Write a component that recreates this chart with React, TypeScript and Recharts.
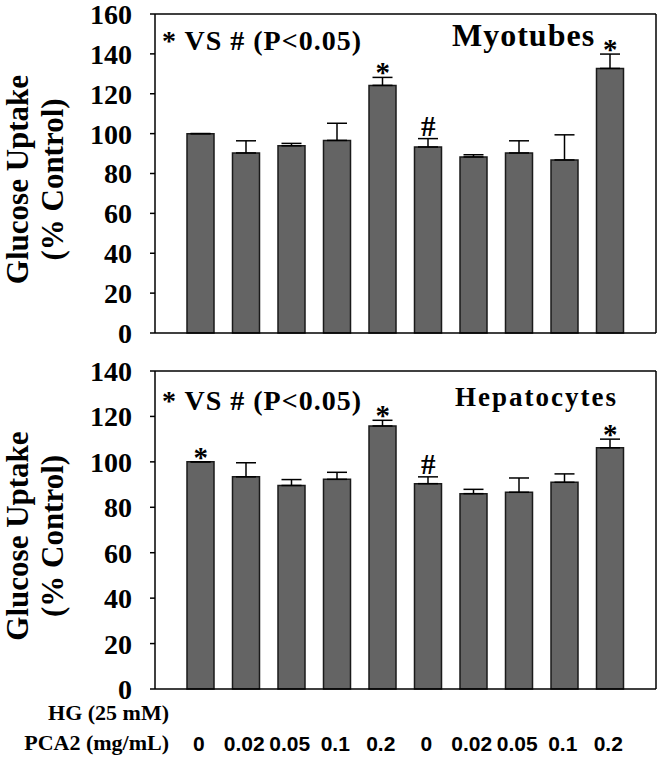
import React from 'react';
import { ComposedChart, Bar, Line, XAxis, YAxis, ErrorBar } from 'recharts';

const pca2Doses = ['0', '0.02', '0.05', '0.1', '0.2', '0', '0.02', '0.05', '0.1', '0.2'];

const myotubesMean = [100, 90.3, 93.9, 96.6, 124.2, 93.3, 88.3, 90.3, 86.8, 132.7];
const myotubesErr = [0, 6.1, 1.2, 8.6, 4.0, 4.2, 1.1, 6.1, 12.6, 7.2];
const myotubesMarks = ['', '', '', '', '*', '#', '', '', '', '*'];

const hepatocytesMean = [100, 93.4, 89.6, 92.3, 115.8, 90.4, 86.0, 86.6, 91.0, 106.2];
const hepatocytesErr = [0, 6.2, 2.6, 3.1, 2.5, 3.0, 1.9, 6.3, 3.7, 3.8];
const hepatocytesMarks = ['*', '', '', '', '*', '#', '', '', '', '*'];

const myotubesTicks = [0, 20, 40, 60, 80, 100, 120, 140, 160];
const hepatocytesTicks = [0, 20, 40, 60, 80, 100, 120, 140];

const SERIF = "'Liberation Serif', 'Times New Roman', Times, serif";
const SANS_NARROW = "'Liberation Sans Narrow', 'Arial Narrow', 'Liberation Sans', Arial, sans-serif";

function buildRows(means: number[], errs: number[], marks: string[]) {
  return pca2Doses.map((dose, i) => ({
    dose,
    mean: means[i],
    err: [0, errs[i]],
    top: means[i] + errs[i],
    mark: marks[i],
  }));
}

const myotubesData = buildRows(myotubesMean, myotubesErr, myotubesMarks);
const hepatocytesData = buildRows(hepatocytesMean, hepatocytesErr, hepatocytesMarks);

const renderMark = (props: any) => {
  const { cx, cy, payload, index } = props;
  const m = payload?.mark;
  if (!m) return <g key={`m-${index}`} />;
  return (
    <text
      key={`m-${index}`}
      x={cx}
      y={m === '*' ? cy + 5 : cy - 3}
      textAnchor="middle"
      fontFamily={SERIF}
      fontWeight="bold"
      fontSize={29}
      fill="#000"
    >
      {m}
    </text>
  );
};

const renderYLabel = (props: any) => {
  const vb = props.viewBox || {};
  const cy = vb.y + vb.height / 2 + 6;
  return (
    <g>
      <text
        x={28}
        y={cy}
        transform={`rotate(-90, 28, ${cy})`}
        textAnchor="middle"
        fontFamily={SERIF}
        fontWeight="bold"
        fontSize={31}
        fill="#000"
      >
        Glucose Uptake
      </text>
      <text
        x={63}
        y={cy}
        transform={`rotate(-90, 63, ${cy})`}
        textAnchor="middle"
        fontFamily={SERIF}
        fontWeight="bold"
        fontSize={31}
        fill="#000"
      >
        (% Control)
      </text>
    </g>
  );
};

const makeTitle = (
  name: string,
  nameX: number,
  nameSize: number,
  spacing: number,
  noteDy: number,
  nameDy: number
) => (props: any) => {
  const vb = props.viewBox || {};
  return (
    <g>
      <text
        x={vb.x + 7}
        y={vb.y + noteDy}
        fontFamily={SERIF}
        fontWeight="bold"
        fontSize={28}
        letterSpacing={1}
        fill="#000"
      >
        * VS # (P&lt;0.05)
      </text>
      <text
        x={vb.x + nameX}
        y={vb.y + nameDy}
        fontFamily={SERIF}
        fontWeight="bold"
        fontSize={nameSize}
        letterSpacing={spacing}
        fill="#000"
      >
        {name}
      </text>
    </g>
  );
};

const renderBottomLabels = (props: any) => {
  const vb = props.viewBox || {};
  return (
    <g>
      <text
        x={vb.x + 14}
        y={vb.y + 31}
        textAnchor="end"
        fontFamily={SERIF}
        fontWeight="bold"
        fontSize={22}
        fill="#000"
      >
        HG (25 mM)
      </text>
      <text
        x={vb.x + 14}
        y={vb.y + 61}
        textAnchor="end"
        fontFamily={SERIF}
        fontWeight="bold"
        fontSize={22}
        fill="#000"
      >
        PCA2 (mg/mL)
      </text>
    </g>
  );
};

const yTickStyle = { fill: '#000', fontSize: 28, fontWeight: 'bold', fontFamily: SERIF };
const axisStroke = { stroke: '#000', strokeWidth: 1.5 };

function Panel(props: {
  data: any[];
  ticks: number[];
  max: number;
  width: number;
  height: number;
  margin: any;
  xHeight: number;
  showDoseLabels: boolean;
  title: (p: any) => React.ReactElement;
}) {
  const { data, ticks, max, width, height, margin, xHeight, showDoseLabels, title } = props;
  return (
    <ComposedChart width={width} height={height} data={data} margin={margin}>
      <XAxis
        dataKey="dose"
        xAxisId="b"
        height={xHeight}
        padding={{ left: 23, right: 23 }}
        axisLine={axisStroke}
        tickLine={false}
        tickSize={0}
        tickMargin={47}
        tick={
          showDoseLabels
            ? { fill: '#000', fontSize: 21, fontWeight: 'bold', fontFamily: SANS_NARROW, dx: -2 }
            : false
        }
        interval={0}
        label={showDoseLabels ? { content: renderBottomLabels } : undefined}
      />
      <XAxis
        dataKey="dose"
        xAxisId="t"
        orientation="top"
        height={1}
        padding={{ left: 23, right: 23 }}
        axisLine={axisStroke}
        tickLine={false}
        tick={false}
        label={{ content: title }}
      />
      <YAxis
        yAxisId="l"
        width={155}
        domain={[0, max]}
        ticks={ticks}
        interval={0}
        axisLine={axisStroke}
        tickLine={axisStroke}
        tickSize={5}
        tickMargin={18}
        tick={yTickStyle}
        label={{ content: renderYLabel }}
      />
      <YAxis
        yAxisId="r"
        orientation="right"
        width={1}
        domain={[0, max]}
        ticks={ticks}
        axisLine={axisStroke}
        tickLine={false}
        tick={false}
      />
      <Bar
        dataKey="mean"
        xAxisId="b"
        yAxisId="l"
        barSize={27}
        fill="#646464"
        stroke="#1a1a1a"
        strokeWidth={1.5}
        isAnimationActive={false}
      >
        <ErrorBar dataKey="err" width={10} stroke="#000" strokeWidth={1.5} direction="y" />
      </Bar>
      <Line
        dataKey="top"
        xAxisId="t"
        yAxisId="r"
        stroke="none"
        dot={renderMark}
        activeDot={false}
        isAnimationActive={false}
        legendType="none"
      />
    </ComposedChart>
  );
}

export default function App() {
  return (
    <div
      style={{
        position: 'absolute',
        left: 0,
        top: 0,
        width: 661,
        height: 757,
        background: '#fff',
      }}
    >
      <div style={{ position: 'absolute', left: 0, top: 0 }}>
        <Panel
          data={myotubesData}
          ticks={myotubesTicks}
          max={160}
          width={661}
          height={360}
          margin={{ top: 13, right: 4, bottom: 0, left: 0 }}
          xHeight={27}
          showDoseLabels={false}
          title={makeTitle('Myotubes', 297, 32, 1, 37, 33)}
        />
      </div>
      <div style={{ position: 'absolute', left: 0, top: 345 }}>
        <Panel
          data={hepatocytesData}
          ticks={hepatocytesTicks}
          max={140}
          width={661}
          height={412}
          margin={{ top: 25, right: 4, bottom: 0, left: 0 }}
          xHeight={68}
          showDoseLabels={true}
          title={makeTitle('Hepatocytes', 300, 27, 2, 40, 36)}
        />
      </div>
    </div>
  );
}
